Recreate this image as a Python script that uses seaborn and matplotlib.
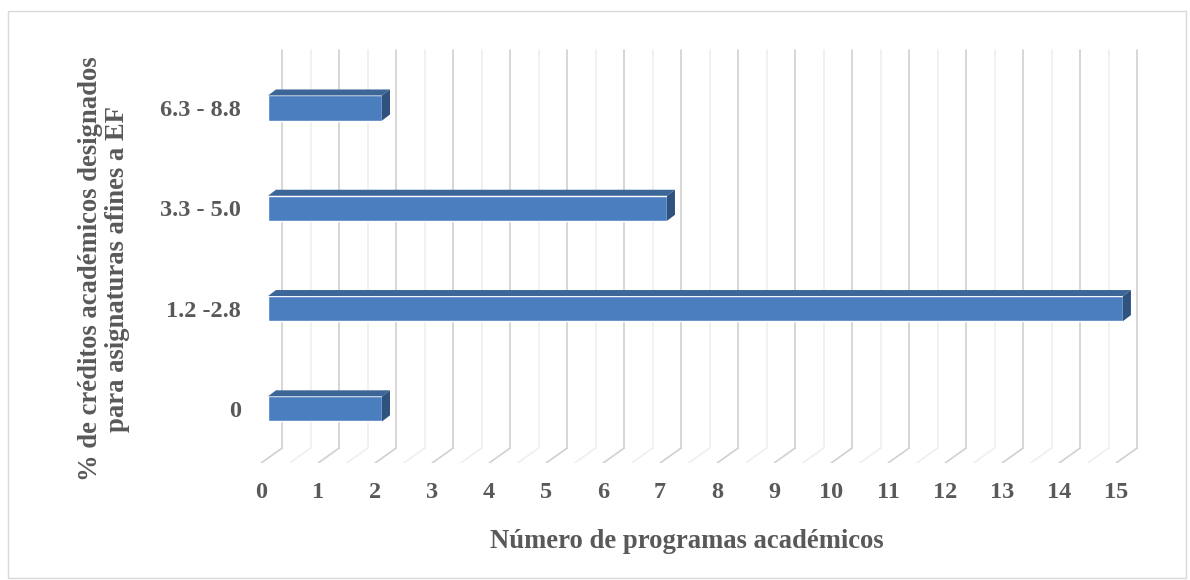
import numpy as np
import pandas as pd
import seaborn as sns
import matplotlib.pyplot as plt
from matplotlib.patches import Polygon, Rectangle

# data
categories = ['6.3 - 8.8', '3.3 - 5.0', '1.2 -2.8', '0']
programas = [2, 7, 15, 2]
xticks = list(range(0, 16))

df = pd.DataFrame({'rango': categories, 'n': programas})

sns.set_style('white')
plt.rcParams['font.family'] = ['Liberation Serif', 'DejaVu Serif']
txt = '#595959'

fig = plt.figure(figsize=(11.9, 5.8), dpi=100)
ax = fig.add_axes([0.2143, 0.2017, 0.7605, 0.7293])

# 3d look: depth offsets in data units
dx_bar, dy_bar = 0.14, 0.06
wall_dx = 0.25
floor_dx = -0.12
floor_y, wall_y, top_y = 3.54, 3.39, -0.58
bw = 0.25

# back wall + floor gridlines (major and half steps)
for v in np.arange(0, 15.01, 0.5):
    col = '#d0d0d0' if v == int(v) else '#efefef'
    ax.plot([v + wall_dx, v + wall_dx], [top_y, wall_y], color=col, lw=1.2, zorder=0)
    ax.plot([v + floor_dx, v + wall_dx], [floor_y, wall_y], color=col, lw=1.2, zorder=0)

sns.barplot(data=df, x='n', y='rango', order=categories, orient='h',
            width=bw, color='#4a7ebf', saturation=1, ax=ax, zorder=3)

for i, v in enumerate(programas):
    y0, y1 = i - bw / 2, i + bw / 2
    top = Polygon([(0, y0), (v, y0), (v + dx_bar, y0 - dy_bar), (dx_bar, y0 - dy_bar)],
                  closed=True, fc='#3d6698', ec='none', zorder=3)
    side = Polygon([(v, y0), (v + dx_bar, y0 - dy_bar), (v + dx_bar, y1 - dy_bar), (v, y1)],
                   closed=True, fc='#2f527f', ec='none', zorder=3)
    ax.add_patch(top)
    ax.add_patch(side)

ax.set_xlim(-0.228, 15.65)
ax.set_ylim(3.54, -0.678)
ax.set_xticks([t + floor_dx for t in xticks])
ax.set_xticklabels([str(t) for t in xticks])
ax.tick_params(axis='x', length=0, pad=14, labelsize=17.5, labelcolor=txt)
ax.tick_params(axis='y', length=0, pad=10, labelsize=17.5, labelcolor=txt)
for lab in ax.get_xticklabels() + ax.get_yticklabels():
    lab.set_fontweight('bold')
ax.set_xlabel('')
ax.set_ylabel('')
sns.despine(ax=ax, left=True, bottom=True)

fig.text(0.577, 0.067, 'Número de programas académicos', ha='center', va='center',
         fontsize=19.2, fontweight='bold', color=txt)
fig.text(0.0874, 0.536, '% de créditos académicos designados\npara asignaturas afines a EF',
         ha='center', va='center', rotation=90, fontsize=19.2, fontweight='bold',
         color=txt, linespacing=1.1)

fig.patches.append(Rectangle((8 / 1190, 2 / 580), 1178 / 1190, 567 / 580,
                             transform=fig.transFigure, fill=False, ec='#d9d9d9', lw=1))

fig.savefig('out.png', dpi=100)
